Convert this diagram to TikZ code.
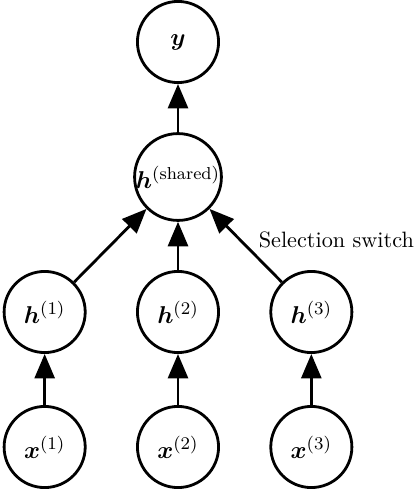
\documentclass[tikz,border=0pt]{standalone}
\usepackage{amsmath}
\usepackage{amssymb}
\usepackage{bm}
\usetikzlibrary{arrows.meta,positioning}

\begin{document}
\begin{tikzpicture}
	[x=0.45pt,y=0.45pt,->,>={Triangle[length=11pt,width=9pt]},line width=1.26pt,auto,
		node distance=60.75pt and 60pt,on grid,
		unit node/.style={circle,draw,minimum size=36.5pt,inner sep=0pt,font=\fontsize{11.1}{13}\selectfont}]

	\useasboundingbox (0,0) rectangle (415,489);

	\node[unit node] (y) at (178,447) {$\boldsymbol{y}$};
	\node[unit node] [below=of y] (hs) {$\boldsymbol{h}^{(\text{shared})}$};
	\node[unit node] [below=of hs] (h2) {$\boldsymbol{h}^{(2)}$};
	\node[unit node] [left=of h2] (h1) {$\boldsymbol{h}^{(1)}$};
	\node[unit node] [right=of h2] (h3) {$\boldsymbol{h}^{(3)}$};
	\node[unit node] [below=of h1] (x1) {$\boldsymbol{x}^{(1)}$};
	\node[unit node] [below=of h2] (x2) {$\boldsymbol{x}^{(2)}$};
	\node[unit node] [below=of h3] (x3) {$\boldsymbol{x}^{(3)}$};

	\path[]
	(hs) edge   (y)
	(h1) edge   (hs)
	(h2) edge   (hs)
	(h3) edge [auto=right]  node [pos=0.4, anchor=south west, xshift=-1.3pt, yshift=-2pt] {Selection switch}  (hs)
	(x1) edge   (h1)
	(x2) edge   (h2)
	(x3) edge   (h3)

	;

\end{tikzpicture}
\end{document}
